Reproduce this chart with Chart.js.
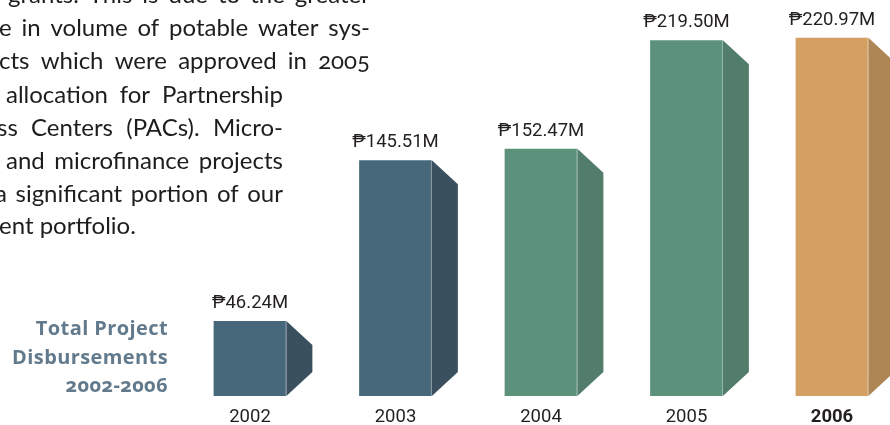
<!DOCTYPE html>
<html>
<head>
<meta charset="utf-8">
<script src="https://cdn.jsdelivr.net/npm/chart.js@4.4.1/dist/chart.umd.min.js"></script>
<style>
  html, body { margin: 0; padding: 0; background: #fff; overflow: hidden; }
  #wrap { position: relative; width: 890px; height: 425px; overflow: hidden; }
  #chart { position: absolute; left: 0; top: 0; }
  .line {
    position: absolute; height: 33px; line-height: 33px;
    font-family: Lato, "Open Sans", sans-serif; font-size: 24px; color: #1d1d1b;
    display: flex; justify-content: space-between; white-space: nowrap;
    font-variant-numeric: oldstyle-nums;
  }
  #title {
    position: absolute; left: 0; width: 168px; top: 314px; text-align: right;
    font-family: "Open Sans", sans-serif; font-weight: 700; font-size: 20px;
    line-height: 28.5px; color: #627a8b; letter-spacing: 0.4px;
    font-variant-numeric: oldstyle-nums;
  }
</style>
</head>
<body>
<div id="wrap">
  <canvas id="chart" width="890" height="425"></canvas>
  <div id="title">Total Project<br>Disbursements<br>2002-2006</div>
</div>
<script>
// data
const years = ['2002', '2003', '2004', '2005', '2006'];
const disbursements = [46.24, 145.51, 152.47, 219.50, 220.97];

// bar faces
const frontColors = ['#46687a', '#46687a', '#5c927b', '#5c927b', '#d49f62'];
const sideColors = ['#3a505e', '#3a505e', '#527d6b', '#527d6b', '#ae8656'];

// paragraph lines beside the chart (cropped on the left)
const paraLines = [
  { words: ['grants.', 'This', 'is', 'due', 'to', 'the', 'greater'], left: 8, right: 370, base: 3 },
  { words: ['e', 'in', 'volume', 'of', 'potable', 'water', 'sys-'], left: -1, right: 370, base: 36 },
  { words: ['cts', 'which', 'were', 'approved', 'in', '2005'], left: -1, right: 370, base: 69 },
  { words: ['allocation', 'for', 'Partnership'], left: 6, right: 283, base: 102.5 },
  { words: ['ss', 'Centers', '(PACs).', 'Micro-'], left: -3, right: 283, base: 135.5 },
  { words: ['and', 'microfinance', 'projects'], left: 6, right: 283, base: 168.5 },
  { words: ['a', 'significant', 'portion', 'of', 'our'], left: -5, right: 283, base: 201.5 },
  { words: ['ent portfolio.'], left: -1, right: null, base: 234 }
];

const wrap = document.getElementById('wrap');
paraLines.forEach(l => {
  const div = document.createElement('div');
  div.className = 'line';
  div.style.left = l.left + 'px';
  div.style.top = (l.base - 25.8) + 'px';
  if (l.right !== null) div.style.width = (l.right - l.left) + 'px';
  l.words.forEach(w => {
    const s = document.createElement('span');
    s.textContent = w;
    div.appendChild(s);
  });
  wrap.appendChild(div);
});

// side face + value label for every bar
const sideFaces = {
  id: 'sideFaces',
  afterDatasetsDraw(chart) {
    const ctx = chart.ctx;
    const meta = chart.getDatasetMeta(0);
    meta.data.forEach((bar, i) => {
      const p = bar.getProps(['x', 'y', 'base', 'width'], true);
      const right = p.x + p.width / 2;
      const depth = 24, side = 26;
      ctx.save();
      ctx.fillStyle = sideColors[i];
      ctx.beginPath();
      ctx.moveTo(right, p.y);
      ctx.lineTo(right + side, p.y + depth);
      ctx.lineTo(right + side, p.base - depth);
      ctx.lineTo(right, p.base);
      ctx.closePath();
      ctx.fill();
      ctx.fillStyle = 'rgba(255,255,255,0.3)';
      ctx.fillRect(right - 1, p.y, 1, p.base - p.y);

      ctx.fillStyle = '#231f20';
      ctx.font = '18.5px Roboto, "DejaVu Sans", sans-serif';
      ctx.textAlign = 'center';
      ctx.textBaseline = 'alphabetic';
      ctx.fillText('\u20B1' + disbursements[i].toFixed(2) + 'M', p.x, p.y - 13);
      ctx.restore();
    });
  }
};

new Chart(document.getElementById('chart'), {
  type: 'bar',
  data: {
    labels: years,
    datasets: [{
      data: disbursements,
      backgroundColor: frontColors,
      borderWidth: 0,
      categoryPercentage: 0.5,
      barPercentage: 1,
      clip: false
    }]
  },
  options: {
    responsive: false,
    animation: false,
    layout: { padding: { left: 250, right: 58, top: 7, bottom: 0 } },
    plugins: { legend: { display: false }, tooltip: { enabled: false } },
    scales: {
      x: {
        offset: false,
        grid: { display: false, drawTicks: false },
        border: { display: false },
        ticks: {
          color: '#231f20',
          padding: 10,
          font: (c) => ({ family: 'Roboto', size: 18.5, weight: c.index === 4 ? 'bold' : 'normal' })
        },
        afterFit: (s) => { s.height = 29; }
      },
      y: { display: false, min: 0, max: 240 }
    }
  },
  plugins: [sideFaces]
});
</script>
</body>
</html>
